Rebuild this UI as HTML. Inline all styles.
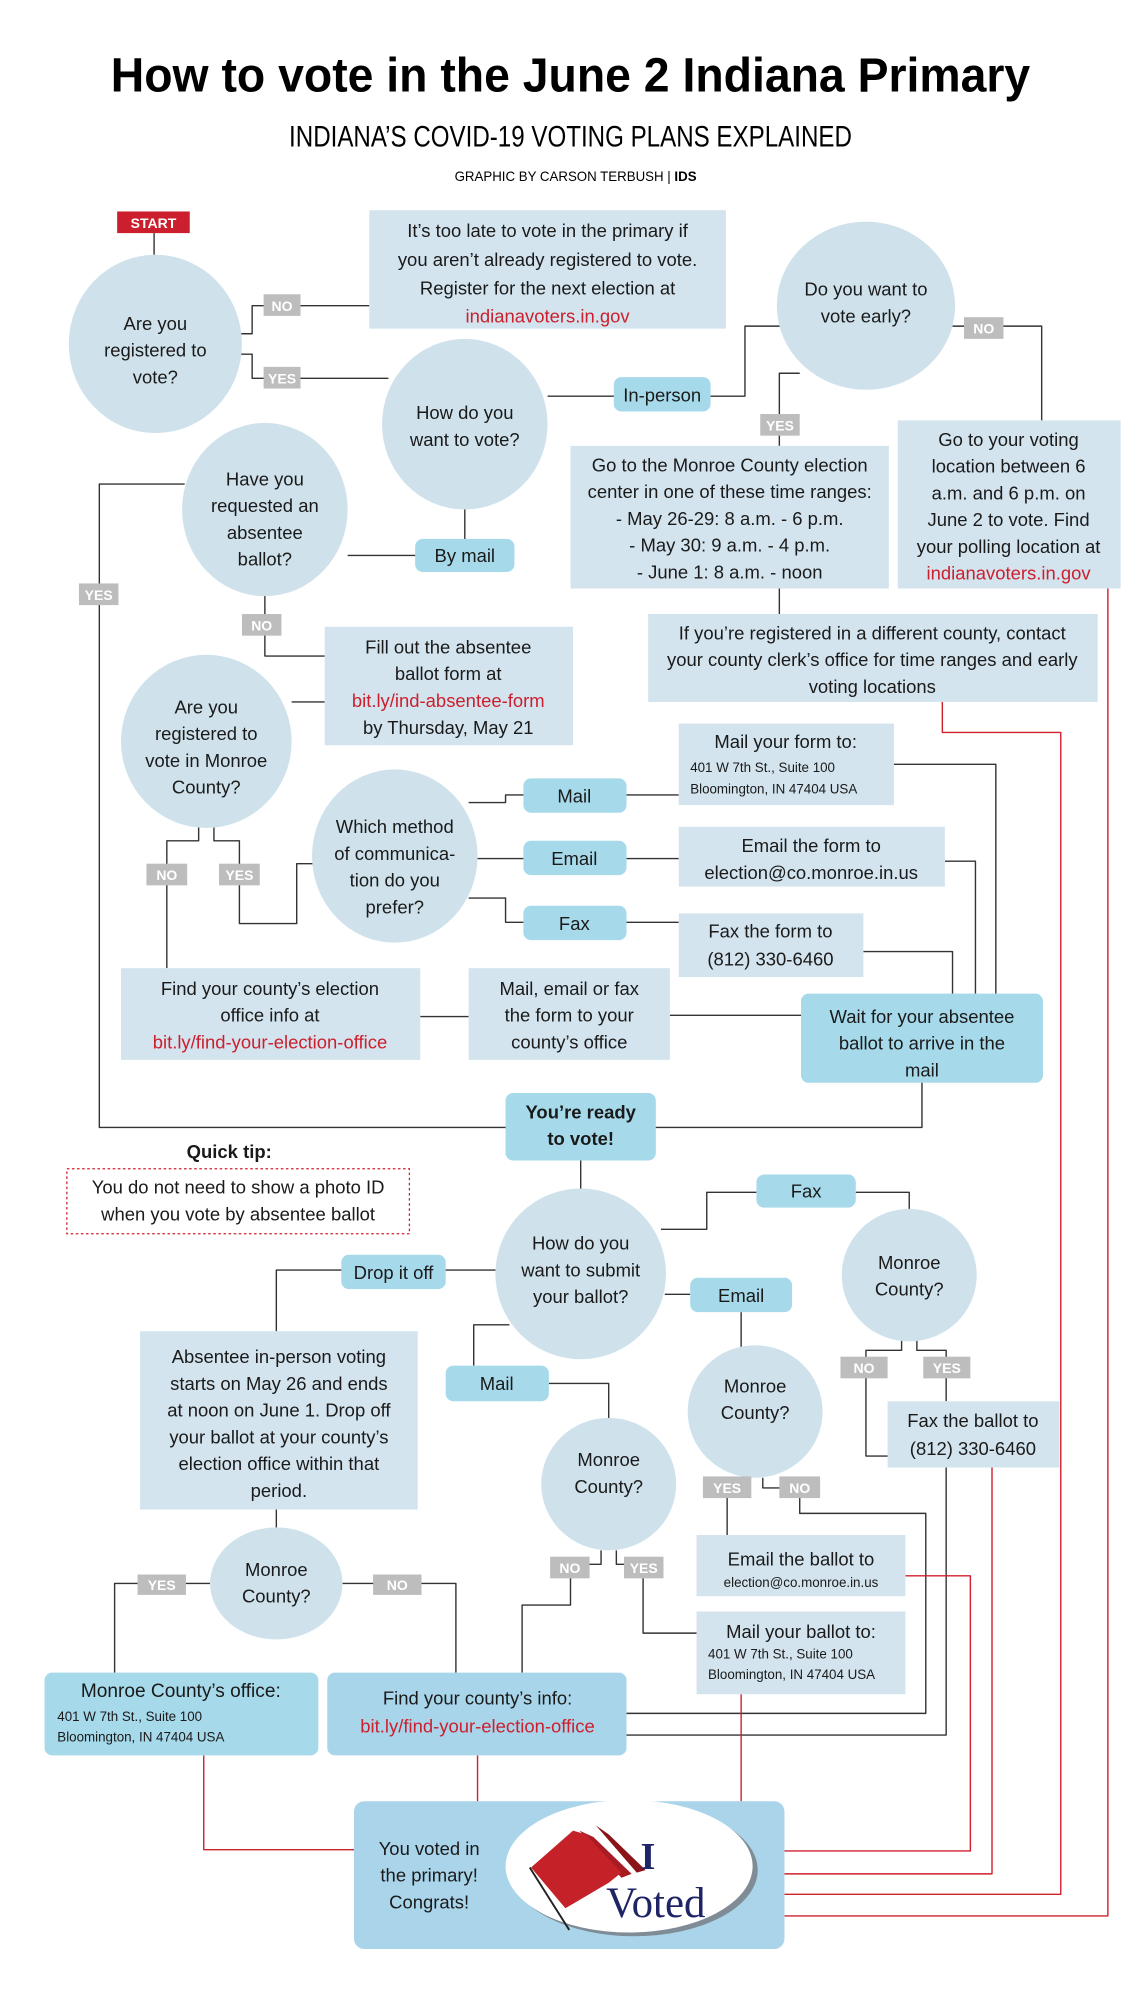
<!DOCTYPE html>
<html><head><meta charset="utf-8"><style>
html,body{margin:0;padding:0;background:#fff}
svg{display:block}
text{font-family:"Liberation Sans",sans-serif;fill:#1a1a1a}
.t{font-size:14.5px;text-anchor:middle}
.r{fill:#cc1f2d}
.s{font-size:10.5px}
.lb{font-size:11px;font-weight:bold;fill:#fff;text-anchor:middle}
.c{fill:#cfe2ec}
.b{fill:#d3e4ee}
.p{fill:#a6d9ea}
.l{fill:none;stroke:#333;stroke-width:1.1;stroke-linejoin:round}
.rl{fill:none;stroke:#d0202e;stroke-width:1.1;stroke-linejoin:round}
.g{fill:#bdbdbd}
</style></head><body>
<svg width="1141" height="2000" viewBox="0 0 896 1570" preserveAspectRatio="none" xmlns="http://www.w3.org/2000/svg">
<rect width="896" height="1570" fill="#fff"/>
<text x="448" y="72" text-anchor="middle" style="font-size:38px;font-weight:bold;fill:#000" textLength="722" lengthAdjust="spacingAndGlyphs">How to vote in the June 2 Indiana Primary</text>
<text x="448" y="115" text-anchor="middle" style="font-size:23px;fill:#000" textLength="442" lengthAdjust="spacingAndGlyphs">INDIANA’S COVID-19 VOTING PLANS EXPLAINED</text>
<text x="452" y="142" text-anchor="middle" style="font-size:10.5px;fill:#000" textLength="190" lengthAdjust="spacingAndGlyphs">GRAPHIC BY CARSON TERBUSH | <tspan font-weight="bold">IDS</tspan></text>

<!-- connectors black -->
<path class="l" d="M121 183V200"/>
<path class="l" d="M188 262H198V240H290"/>
<path class="l" d="M188 278H198V297H305"/>
<path class="l" d="M430 311H558M558 311H585V256H614"/>
<path class="l" d="M748 256H818V330"/>
<path class="l" d="M628 293H612V350M612 462V482"/>
<path class="l" d="M365 400V436M273 436H365"/>
<path class="l" d="M145 380H78V885H724V845"/>
<path class="l" d="M208 467V515H255"/>
<path class="l" d="M229 551H255"/>
<path class="l" d="M156 648V660H131V760"/>
<path class="l" d="M168 648V660H188V725H233V678H250"/>
<path class="l" d="M368 630H397V624H533"/>
<path class="l" d="M375 674H533"/>
<path class="l" d="M368 705H397V724H533"/>
<path class="l" d="M702 600H782V780M742 676H766V780M678 747H748V780"/>
<path class="l" d="M330 798H368M526 797H629"/>
<path class="l" d="M456 911V935"/>
<path class="l" d="M519 965H555V936H594M672 936H714V950"/>
<path class="l" d="M522 1016H542M582 1030V1058"/>
<path class="l" d="M390 997H268M268 997H217V1045"/>
<path class="l" d="M400 1040H372V1072M431 1086H478V1114"/>
<path class="l" d="M217 1185V1200"/>
<path class="l" d="M165 1243H90V1313M269 1243H358V1313"/>
<path class="l" d="M472 1217V1228H448V1260H410V1313"/>
<path class="l" d="M484 1217V1228H505V1282H547"/>
<path class="l" d="M587 1160V1168H571V1205"/>
<path class="l" d="M599 1160V1168H628V1188H727V1345H492"/>
<path class="l" d="M708 1052V1060H680V1143H743V1362H492"/>
<path class="l" d="M720 1052V1060H743V1100"/>

<!-- red connectors -->
<path class="rl" d="M740 551V575H833V1487H616"/>
<path class="rl" d="M870 462V1504H616"/>
<path class="rl" d="M711 1237H762V1453H616"/>
<path class="rl" d="M779 1152V1471H616"/>
<path class="rl" d="M160 1378V1452H278"/>
<path class="rl" d="M375 1378V1414M582 1330V1414"/>

<!-- START -->
<rect x="92" y="166" width="57" height="17" fill="#cc1f2d"/>
<text x="120.5" y="179" text-anchor="middle" style="font-size:11px;font-weight:bold;fill:#fff">START</text>

<!-- circles -->
<ellipse class="c" cx="122" cy="270" rx="68" ry="70"/>
<text class="t" x="122"><tspan x="122" y="259">Are you</tspan><tspan x="122" y="280">registered to</tspan><tspan x="122" y="301">vote?</tspan></text>
<ellipse class="c" cx="365" cy="333" rx="65" ry="67"/>
<text class="t"><tspan x="365" y="329">How do you</tspan><tspan x="365" y="350">want to vote?</tspan></text>
<ellipse class="c" cx="680" cy="240" rx="70" ry="66"/>
<text class="t"><tspan x="680" y="232">Do you want to</tspan><tspan x="680" y="253">vote early?</tspan></text>
<ellipse class="c" cx="208" cy="400" rx="65" ry="68"/>
<text class="t"><tspan x="208" y="381">Have you</tspan><tspan x="208" y="402">requested an</tspan><tspan x="208" y="423">absentee</tspan><tspan x="208" y="444">ballot?</tspan></text>
<ellipse class="c" cx="162" cy="582" rx="67" ry="68"/>
<text class="t"><tspan x="162" y="560">Are you</tspan><tspan x="162" y="581">registered to</tspan><tspan x="162" y="602">vote in Monroe</tspan><tspan x="162" y="623">County?</tspan></text>
<ellipse class="c" cx="310" cy="672" rx="65" ry="68"/>
<text class="t"><tspan x="310" y="654">Which method</tspan><tspan x="310" y="675">of communica-</tspan><tspan x="310" y="696">tion do you</tspan><tspan x="310" y="717">prefer?</tspan></text>
<ellipse class="c" cx="456" cy="1000" rx="67" ry="67"/>
<text class="t"><tspan x="456" y="981">How do you</tspan><tspan x="456" y="1002">want to submit</tspan><tspan x="456" y="1023">your ballot?</tspan></text>
<ellipse class="c" cx="714" cy="1001" rx="53" ry="52"/>
<text class="t"><tspan x="714" y="996">Monroe</tspan><tspan x="714" y="1017">County?</tspan></text>
<ellipse class="c" cx="593" cy="1108" rx="53" ry="52"/>
<text class="t"><tspan x="593" y="1093">Monroe</tspan><tspan x="593" y="1114">County?</tspan></text>
<ellipse class="c" cx="478" cy="1165" rx="53" ry="52"/>
<text class="t"><tspan x="478" y="1151">Monroe</tspan><tspan x="478" y="1172">County?</tspan></text>
<ellipse class="c" cx="217" cy="1243" rx="52" ry="44"/>
<text class="t"><tspan x="217" y="1237">Monroe</tspan><tspan x="217" y="1258">County?</tspan></text>

<!-- boxes -->
<rect class="b" x="290" y="165" width="280" height="93"/>
<text class="t"><tspan x="430" y="186">It’s too late to vote in the primary if</tspan><tspan x="430" y="209">you aren’t already registered to vote.</tspan><tspan x="430" y="231">Register for the next election at</tspan><tspan x="430" y="253" class="r">indianavoters.in.gov</tspan></text>
<rect class="b" x="448" y="350" width="250" height="112"/>
<text class="t"><tspan x="573" y="370">Go to the Monroe County election</tspan><tspan x="573" y="391">center in one of these time ranges:</tspan><tspan x="573" y="412">- May 26-29: 8 a.m. - 6 p.m.</tspan><tspan x="573" y="433">- May 30: 9 a.m. - 4 p.m.</tspan><tspan x="573" y="454">- June 1: 8 a.m. - noon</tspan></text>
<rect class="b" x="705" y="330" width="175" height="132"/>
<text class="t"><tspan x="792" y="350">Go to your voting</tspan><tspan x="792" y="371">location between 6</tspan><tspan x="792" y="392">a.m. and 6 p.m. on</tspan><tspan x="792" y="413">June 2 to vote. Find</tspan><tspan x="792" y="434">your polling location at</tspan><tspan x="792" y="455" class="r">indianavoters.in.gov</tspan></text>
<rect class="b" x="509" y="482" width="353" height="69"/>
<text class="t"><tspan x="685" y="502">If you’re registered in a different county, contact</tspan><tspan x="685" y="523">your county clerk’s office for time ranges and early</tspan><tspan x="685" y="544">voting locations</tspan></text>
<rect class="b" x="255" y="492" width="195" height="93"/>
<text class="t"><tspan x="352" y="513">Fill out the absentee</tspan><tspan x="352" y="534">ballot form at</tspan><tspan x="352" y="555" class="r">bit.ly/ind-absentee-form</tspan><tspan x="352" y="576">by Thursday, May 21</tspan></text>
<rect class="b" x="533" y="568" width="169" height="64"/>
<text class="t" x="617" y="587">Mail your form to:</text>
<text class="s"><tspan x="542" y="606">401 W 7th St., Suite 100</tspan><tspan x="542" y="623">Bloomington, IN 47404 USA</tspan></text>
<rect class="b" x="533" y="649" width="209" height="47"/>
<text class="t"><tspan x="637" y="669">Email the form to</tspan><tspan x="637" y="690">election@co.monroe.in.us</tspan></text>
<rect class="b" x="533" y="717" width="145" height="50"/>
<text class="t"><tspan x="605" y="736">Fax the form to</tspan><tspan x="605" y="758">(812) 330-6460</tspan></text>
<rect class="b" x="95" y="760" width="235" height="72"/>
<text class="t"><tspan x="212" y="781">Find your county’s election</tspan><tspan x="212" y="802">office info at</tspan><tspan x="212" y="823" class="r">bit.ly/find-your-election-office</tspan></text>
<rect class="b" x="368" y="760" width="158" height="72"/>
<text class="t"><tspan x="447" y="781">Mail, email or fax</tspan><tspan x="447" y="802">the form to your</tspan><tspan x="447" y="823">county’s office</tspan></text>
<rect class="p" x="629" y="780" width="190" height="70" rx="6"/>
<text class="t"><tspan x="724" y="803">Wait for your absentee</tspan><tspan x="724" y="824">ballot to arrive in the</tspan><tspan x="724" y="845">mail</tspan></text>
<rect class="p" x="397" y="858" width="118" height="53" rx="6"/>
<text class="t" style="font-weight:bold"><tspan x="456" y="878">You’re ready</tspan><tspan x="456" y="899">to vote!</tspan></text>
<text class="t" x="180" y="909" style="font-weight:bold">Quick tip:</text>
<rect x="52.5" y="917.5" width="269" height="51" fill="none" stroke="#d0202e" stroke-width="1" stroke-dasharray="2,2"/>
<text class="t"><tspan x="187" y="937">You do not need to show a photo ID</tspan><tspan x="187" y="958">when you vote by absentee ballot</tspan></text>
<rect class="b" x="110" y="1045" width="218" height="140"/>
<text class="t"><tspan x="219" y="1070">Absentee in-person voting</tspan><tspan x="219" y="1091">starts on May 26 and ends</tspan><tspan x="219" y="1112">at noon on June 1. Drop off</tspan><tspan x="219" y="1133">your ballot at your county’s</tspan><tspan x="219" y="1154">election office within that</tspan><tspan x="219" y="1175">period.</tspan></text>
<rect class="b" x="697" y="1100" width="135" height="52"/>
<text class="t"><tspan x="764" y="1120">Fax the ballot to</tspan><tspan x="764" y="1142">(812) 330-6460</tspan></text>
<rect class="b" x="547" y="1205" width="164" height="48"/>
<text class="t" x="629" y="1229">Email the ballot to</text>
<text class="s" x="629" y="1246" text-anchor="middle">election@co.monroe.in.us</text>
<rect class="b" x="547" y="1265" width="164" height="65"/>
<text class="t" x="629" y="1286">Mail your ballot to:</text>
<text class="s"><tspan x="556" y="1302">401 W 7th St., Suite 100</tspan><tspan x="556" y="1318">Bloomington, IN 47404 USA</tspan></text>
<rect class="p" x="35" y="1313" width="215" height="65" rx="6"/>
<text class="t" x="142" y="1332" style="font-size:15px">Monroe County’s office:</text>
<text class="s"><tspan x="45" y="1351">401 W 7th St., Suite 100</tspan><tspan x="45" y="1367">Bloomington, IN 47404 USA</tspan></text>
<rect x="257" y="1313" width="235" height="65" rx="6" fill="#a9d5ea"/>
<text class="t"><tspan x="375" y="1338">Find your county’s info:</tspan><tspan x="375" y="1360" class="r">bit.ly/find-your-election-office</tspan></text>

<!-- pills -->
<rect class="p" x="482" y="296" width="76" height="27" rx="6"/><text class="t" x="520" y="315">In-person</text>
<rect class="p" x="326" y="423" width="78" height="26" rx="6"/><text class="t" x="365" y="441">By mail</text>
<rect class="p" x="411" y="611" width="81" height="27" rx="6"/><text class="t" x="451" y="630">Mail</text>
<rect class="p" x="411" y="660" width="81" height="27" rx="6"/><text class="t" x="451" y="679">Email</text>
<rect class="p" x="411" y="711" width="81" height="27" rx="6"/><text class="t" x="451" y="730">Fax</text>
<rect class="p" x="594" y="922" width="78" height="26" rx="6"/><text class="t" x="633" y="940">Fax</text>
<rect class="p" x="542" y="1003" width="80" height="27" rx="6"/><text class="t" x="582" y="1022">Email</text>
<rect class="p" x="268" y="985" width="82" height="27" rx="6"/><text class="t" x="309" y="1004">Drop it off</text>
<rect class="p" x="350" y="1072" width="81" height="28" rx="6"/><text class="t" x="390" y="1091">Mail</text>

<!-- yes/no labels -->
<g>
<rect class="g" x="207" y="231" width="29" height="17"/><text class="lb" x="221.5" y="244">NO</text>
<rect class="g" x="207" y="288" width="29" height="17"/><text class="lb" x="221.5" y="301">YES</text>
<rect class="g" x="757" y="249" width="31" height="17"/><text class="lb" x="772.5" y="262">NO</text>
<rect class="g" x="597" y="325" width="31" height="17"/><text class="lb" x="612.5" y="338">YES</text>
<rect class="g" x="62" y="458" width="31" height="17"/><text class="lb" x="77.5" y="471">YES</text>
<rect class="g" x="190" y="482" width="31" height="17"/><text class="lb" x="205.5" y="495">NO</text>
<rect class="g" x="115" y="678" width="32" height="17"/><text class="lb" x="131" y="691">NO</text>
<rect class="g" x="172" y="678" width="32" height="17"/><text class="lb" x="188" y="691">YES</text>
<rect class="g" x="660" y="1065" width="37" height="17"/><text class="lb" x="678.5" y="1078">NO</text>
<rect class="g" x="725" y="1065" width="37" height="17"/><text class="lb" x="743.5" y="1078">YES</text>
<rect class="g" x="552" y="1159" width="38" height="17"/><text class="lb" x="571" y="1172">YES</text>
<rect class="g" x="612" y="1159" width="32" height="17"/><text class="lb" x="628" y="1172">NO</text>
<rect class="g" x="432" y="1222" width="31" height="17"/><text class="lb" x="447.5" y="1235">NO</text>
<rect class="g" x="490" y="1222" width="31" height="17"/><text class="lb" x="505.5" y="1235">YES</text>
<rect class="g" x="108" y="1236" width="38" height="16"/><text class="lb" x="127" y="1248">YES</text>
<rect class="g" x="293" y="1236" width="38" height="16"/><text class="lb" x="312" y="1248">NO</text>
</g>

<!-- I voted -->
<rect x="278" y="1414" width="338" height="116" rx="8" fill="#a9d4ea"/>
<text class="t"><tspan x="337" y="1456">You voted in</tspan><tspan x="337" y="1477">the primary!</tspan><tspan x="337" y="1498">Congrats!</tspan></text>
<ellipse cx="498" cy="1468" rx="97" ry="52" fill="#7f8c96"/>
<ellipse cx="494" cy="1465" rx="97" ry="52" fill="#fff"/>
<polygon points="468,1433 478,1440 507,1468 500,1470" fill="#8b1418"/>
<polygon points="455,1437 466,1442 496,1471 488,1474" fill="#a81b22"/>
<polygon points="417,1466 450,1437 460,1440 488,1470 478,1478 444,1498" fill="#c42129"/>
<path d="M416 1466 L447 1515" stroke="#222" stroke-width="1.5"/>
<text x="503" y="1467" style="font-family:'Liberation Serif',serif;font-size:30px;font-weight:bold;fill:#1f2466">I</text>
<text x="476" y="1505" style="font-family:'Liberation Serif',serif;font-size:34px;fill:#1f2466" textLength="78" lengthAdjust="spacingAndGlyphs">Voted</text>
</svg>
</body></html>
